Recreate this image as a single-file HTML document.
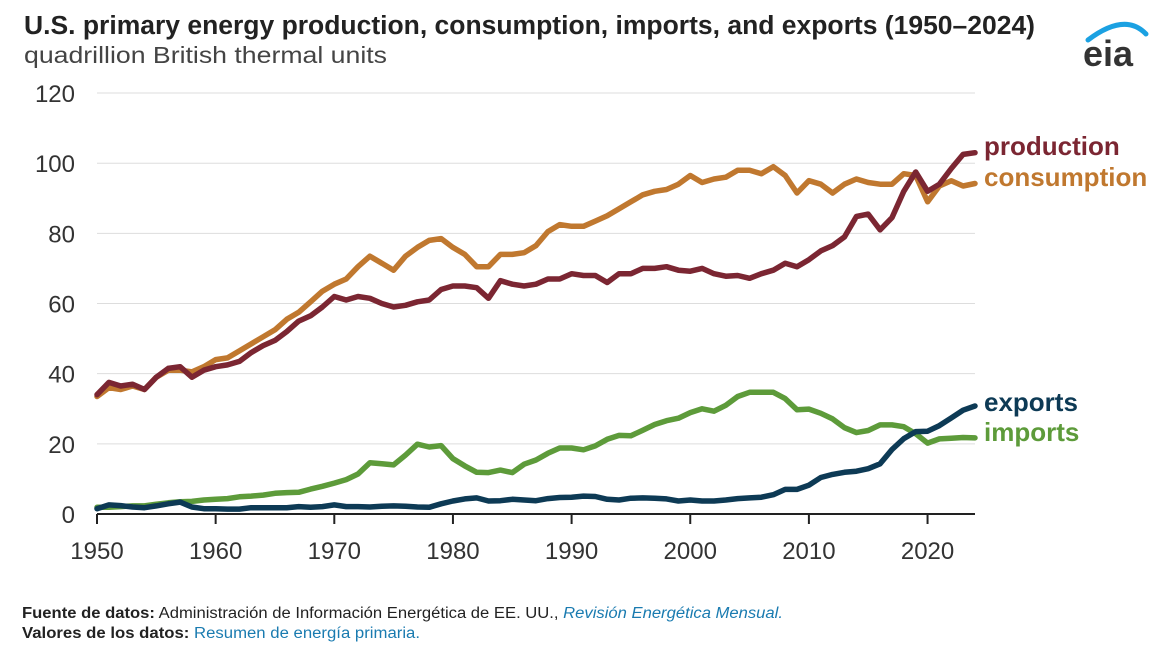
<!DOCTYPE html>
<html><head><meta charset="utf-8"><style>
body{margin:0;background:#fff;width:1165px;height:653px;overflow:hidden;font-family:"Liberation Sans",Arial,sans-serif}
</style></head><body>
<svg id="s" width="1165" height="653" xmlns="http://www.w3.org/2000/svg" font-family="Liberation Sans, Arial, sans-serif">
<text x="24" y="34" font-size="25.5" font-weight="bold" fill="#222" textLength="1011" lengthAdjust="spacingAndGlyphs">U.S. primary energy production, consumption, imports, and exports (1950–2024)</text>
<text x="24" y="63" font-size="23.5" fill="#444" textLength="363" lengthAdjust="spacingAndGlyphs">quadrillion British thermal units</text>
<path d="M1088 40 Q1125 12 1146 34" stroke="#1ba1e2" stroke-width="5" fill="none" stroke-linecap="round"/>
<text x="1083" y="66" font-size="36" fill="#333" font-weight="bold">eia</text>
<g id="grid"></g>
<line x1="97" y1="514" x2="975" y2="514" stroke="#222" stroke-width="2"/>
<g id="lines"></g>
<text x="984" y="155" font-size="26" font-weight="bold" fill="#7b2632">production</text>
<text x="984" y="186" font-size="26" font-weight="bold" fill="#c0782f">consumption</text>
<text x="984" y="411" font-size="26" font-weight="bold" fill="#0d3a55">exports</text>
<text x="984" y="441" font-size="26" font-weight="bold" fill="#5d9b3a">imports</text>
<text x="22" y="618" font-size="15.5" fill="#222" textLength="761" lengthAdjust="spacingAndGlyphs"><tspan font-weight="bold">Fuente de datos:</tspan> Administración de Información Energética de EE. UU., <tspan fill="#1a7bb0" font-style="italic">Revisión Energética Mensual.</tspan></text>
<text x="22" y="638" font-size="15.5" fill="#222" textLength="398" lengthAdjust="spacingAndGlyphs"><tspan font-weight="bold">Valores de los datos:</tspan> <tspan fill="#1a7bb0">Resumen de energía primaria.</tspan></text>
</svg>
<script>
var X=function(y){return 97+(y-1950)*11.865},Y=function(v){return 514-v*3.508};
var ns="http://www.w3.org/2000/svg",g=document.getElementById("grid"),L=document.getElementById("lines");
function el(p,t,a,txt){var e=document.createElementNS(ns,t);for(var k in a)e.setAttribute(k,a[k]);if(txt!=null)e.textContent=txt;p.appendChild(e);return e}
for(var v=0;v<=120;v+=20){if(v>0)el(g,"line",{x1:97,x2:975,y1:Y(v),y2:Y(v),stroke:"#ddd","stroke-width":1});
el(g,"text",{x:75,y:Y(v)+9,"font-size":24,"text-anchor":"end",fill:"#333"},v)}
for(var y=1950;y<=2020;y+=10){el(g,"line",{x1:X(y),x2:X(y),y1:514,y2:524,stroke:"#222","stroke-width":2});
el(g,"text",{x:X(y),y:559,"font-size":24,"text-anchor":"middle",fill:"#333"},y)}
var D={
"#c0782f":[33.5,36,35.5,36.5,35.5,39,41,41,40.5,42,44,44.5,46.5,48.5,50.5,52.5,55.5,57.5,60.5,63.5,65.5,67,70.5,73.5,71.5,69.5,73.5,76,78,78.5,76,74,70.5,70.5,74,74,74.5,76.5,80.5,82.5,82,82,83.5,85,87,89,91,92,92.5,94,96.5,94.5,95.5,96,98,98,97,99,96.5,91.5,95,94,91.5,94,95.5,94.5,94,94,97,96.5,89,93.5,95,93.5,94.2],
"#7b2632":[34,37.5,36.5,37,35.5,39,41.5,42,39,41,42,42.5,43.5,46,48,49.5,52,55,56.5,59,62,61,62,61.5,60,59,59.5,60.5,61,64,65,65,64.5,61.5,66.5,65.5,65,65.5,67,67,68.5,68,68,66,68.5,68.5,70,70,70.5,69.5,69.2,70,68.5,67.8,68,67.2,68.5,69.5,71.5,70.5,72.5,75,76.5,79,84.8,85.5,81,84.5,92,97.5,92,94,98.5,102.5,103],
"#5d9b3a":[1.9,1.9,2.1,2.3,2.3,2.8,3.2,3.5,3.6,4,4.2,4.4,4.9,5.1,5.4,5.9,6.1,6.2,7.1,7.9,8.8,9.8,11.4,14.6,14.3,14,16.8,19.9,19.1,19.5,15.8,13.7,11.9,11.8,12.5,11.8,14.2,15.4,17.3,18.8,18.8,18.3,19.4,21.3,22.4,22.3,23.9,25.5,26.6,27.3,28.9,30,29.3,31,33.5,34.7,34.7,34.7,32.9,29.7,29.9,28.7,27.1,24.6,23.2,23.8,25.4,25.4,24.9,22.9,20.2,21.4,21.6,21.8,21.7],
"#0d3a55":[1.5,2.6,2.4,2,1.8,2.3,2.9,3.4,2,1.5,1.5,1.4,1.4,1.8,1.8,1.8,1.8,2.1,1.9,2.1,2.6,2.1,2.1,2,2.2,2.3,2.2,2,1.9,2.9,3.7,4.3,4.6,3.7,3.8,4.2,4,3.8,4.4,4.7,4.8,5.1,5,4.2,4,4.5,4.6,4.5,4.3,3.7,4,3.7,3.7,4,4.4,4.6,4.8,5.5,7,7,8.2,10.4,11.3,11.9,12.2,12.9,14.3,18.4,21.5,23.5,23.6,25.2,27.4,29.6,30.8]};
for(var c in D){var p=D[c].map(function(v,i){return X(1950+i).toFixed(1)+","+Y(v).toFixed(1)}).join(" ");
el(L,"polyline",{points:p,fill:"none",stroke:c,"stroke-width":5.5,"stroke-linejoin":"round","stroke-linecap":"round"})}
</script>
</body></html>
